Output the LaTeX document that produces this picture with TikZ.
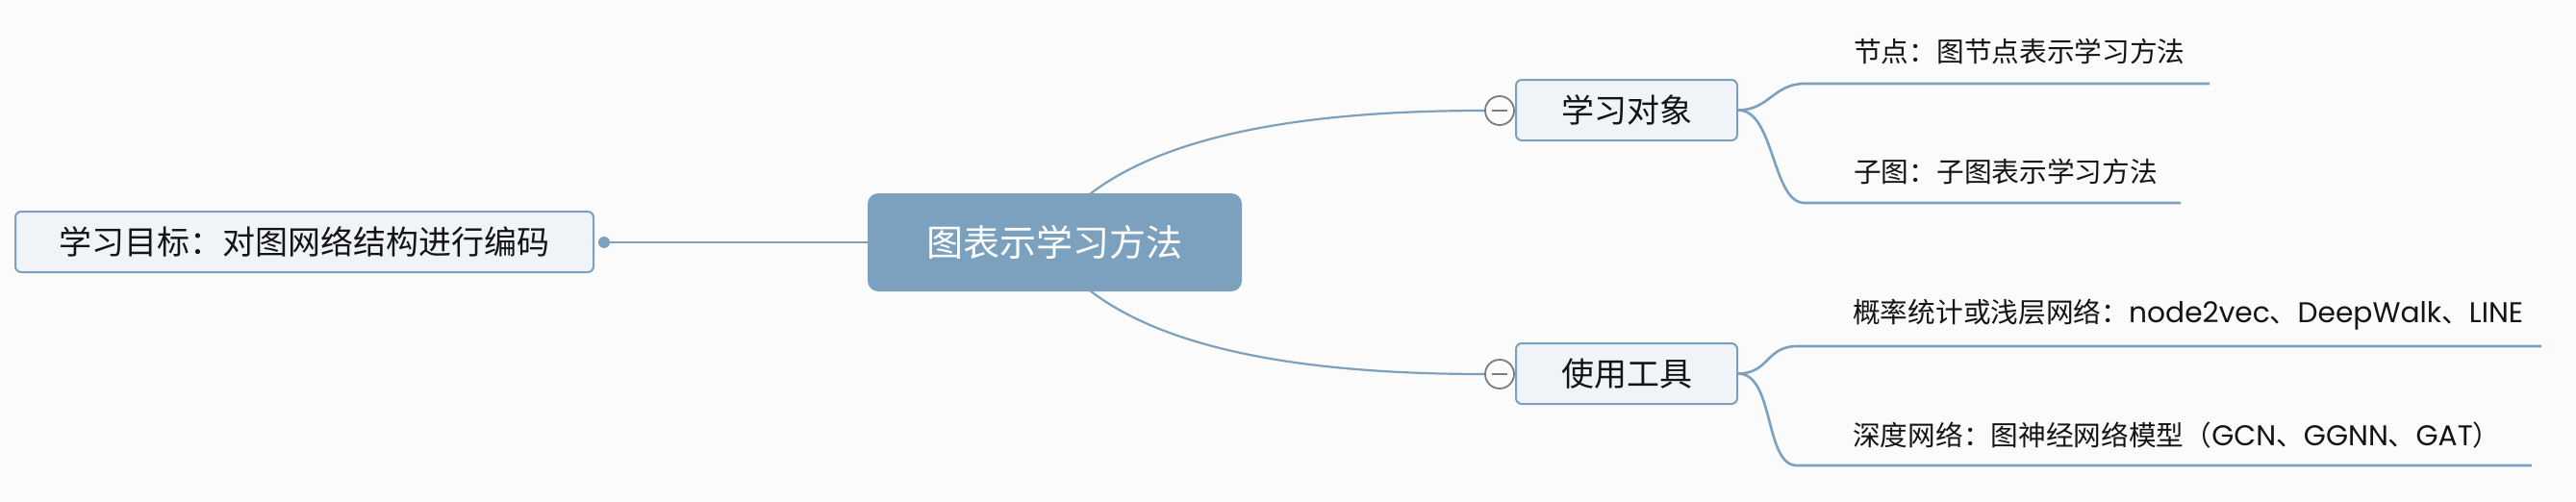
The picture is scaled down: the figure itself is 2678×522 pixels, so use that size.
\documentclass[tikz,border=0pt]{standalone}
\usepackage{fontspec}
\setmainfont{Noto Sans CJK SC}
\newfontfamily\lat{Poppins}[Scale=1.035]
\definecolor{bgc}{RGB}{251,251,251}
\definecolor{lnc}{RGB}{124,161,191}
\definecolor{cenfill}{RGB}{123,161,190}
\definecolor{boxfill}{RGB}{240,244,248}
\definecolor{txtc}{RGB}{20,20,20}
\definecolor{grayc}{RGB}{125,125,125}
\pgfdeclarelayer{bglayer}
\pgfdeclarelayer{linelayer}
\pgfsetlayers{bglayer,linelayer,main}
\begin{document}
\begin{tikzpicture}[x=1pt,y=-1pt,
  topicbox/.style={draw=lnc, line width=2pt, fill=boxfill, rounded corners=6pt,
    text=txtc, inner sep=0pt, font=\fontsize{34}{40}\selectfont},
  centerbox/.style={fill=cenfill, draw=none, rounded corners=11pt, text=white,
    inner sep=0pt, minimum width=389pt, minimum height=102pt,
    font=\fontsize{38}{44}\selectfont},
  leaftext/.style={anchor=west, inner sep=0pt, text=txtc, font=\fontsize{28.7}{34}\selectfont},
  collapser/.style={circle, draw=grayc, line width=1.8pt, fill=bgc, minimum size=30pt, inner sep=0pt},
  mainline/.style={draw=lnc, line width=2.2pt},
  leafline/.style={draw=lnc, line width=2.6pt},
]
\begin{pgfonlayer}{bglayer}
\fill[bgc] (0,0) rectangle (2678,522);
\end{pgfonlayer}
\useasboundingbox (0,0) rectangle (2678,522);

% nodes
\node[centerbox] (cen) at (1096.5,252) {图表示学习方法};
\node[topicbox, minimum width=601pt, minimum height=63pt] (goal) at (316.5,251.5) {学习目标：对图网络结构进行编码};
\node[circle, fill=lnc, minimum size=12pt, inner sep=0pt] (dot) at (628,252) {};
\node[topicbox, minimum width=230pt, minimum height=63pt] (obj) at (1691,114.5) {学习对象};
\node[topicbox, minimum width=230pt, minimum height=63pt] (tool) at (1691,388.5) {使用工具};
\node[collapser] (o1) at (1559,115) {};
\node[collapser] (o2) at (1559,389) {};
\draw[grayc, line width=2pt] ([xshift=-8pt]o1.center) -- ([xshift=8pt]o1.center);
\draw[grayc, line width=2pt] ([xshift=-8pt]o2.center) -- ([xshift=8pt]o2.center);

\node[leaftext] (n1) at (1927,53) {节点：图节点表示学习方法};
\node[leaftext] (n2) at (1927,178) {子图：子图表示学习方法};
\node[leaftext] (n3) at (1926,327) {概率统计或浅层网络：{\lat node2vec}、{\lat DeepWalk}、{\lat LINE}};
\node[leaftext] (n4) at (1926,453) {深度网络：图神经网络模型（{\lat GCN}、{\lat GGNN}、{\lat GAT}）};

\coordinate (a1s) at (1876,87);  \coordinate (a1e) at (2297,87);
\coordinate (a2s) at (1876,211); \coordinate (a2e) at (2267,211);
\coordinate (b1s) at (1868,360); \coordinate (b1e) at (2642,360);
\coordinate (b2s) at (1868,484); \coordinate (b2e) at (2632,484);

\begin{pgfonlayer}{linelayer}
\draw[mainline, line width=1.6pt] (dot) -- (cen.west);
\draw[mainline] ([xshift=-10pt]cen.center) .. controls +(58,-92) and +(-250,0) .. (o1.west);
\draw[mainline] ([xshift=-10pt]cen.center) .. controls +(58,92) and +(-250,0) .. (o2.west);
\draw[leafline] (obj.east) .. controls +(32,0) and +(-32,0) .. (a1s) -- (a1e);
\draw[leafline] (obj.east) .. controls +(38,0) and +(-34,0) .. (a2s) -- (a2e);
\draw[leafline] (tool.east) .. controls +(32,0) and +(-32,0) .. (b1s) -- (b1e);
\draw[leafline] (tool.east) .. controls +(38,0) and +(-34,0) .. (b2s) -- (b2e);
\end{pgfonlayer}
\end{tikzpicture}
\end{document}
